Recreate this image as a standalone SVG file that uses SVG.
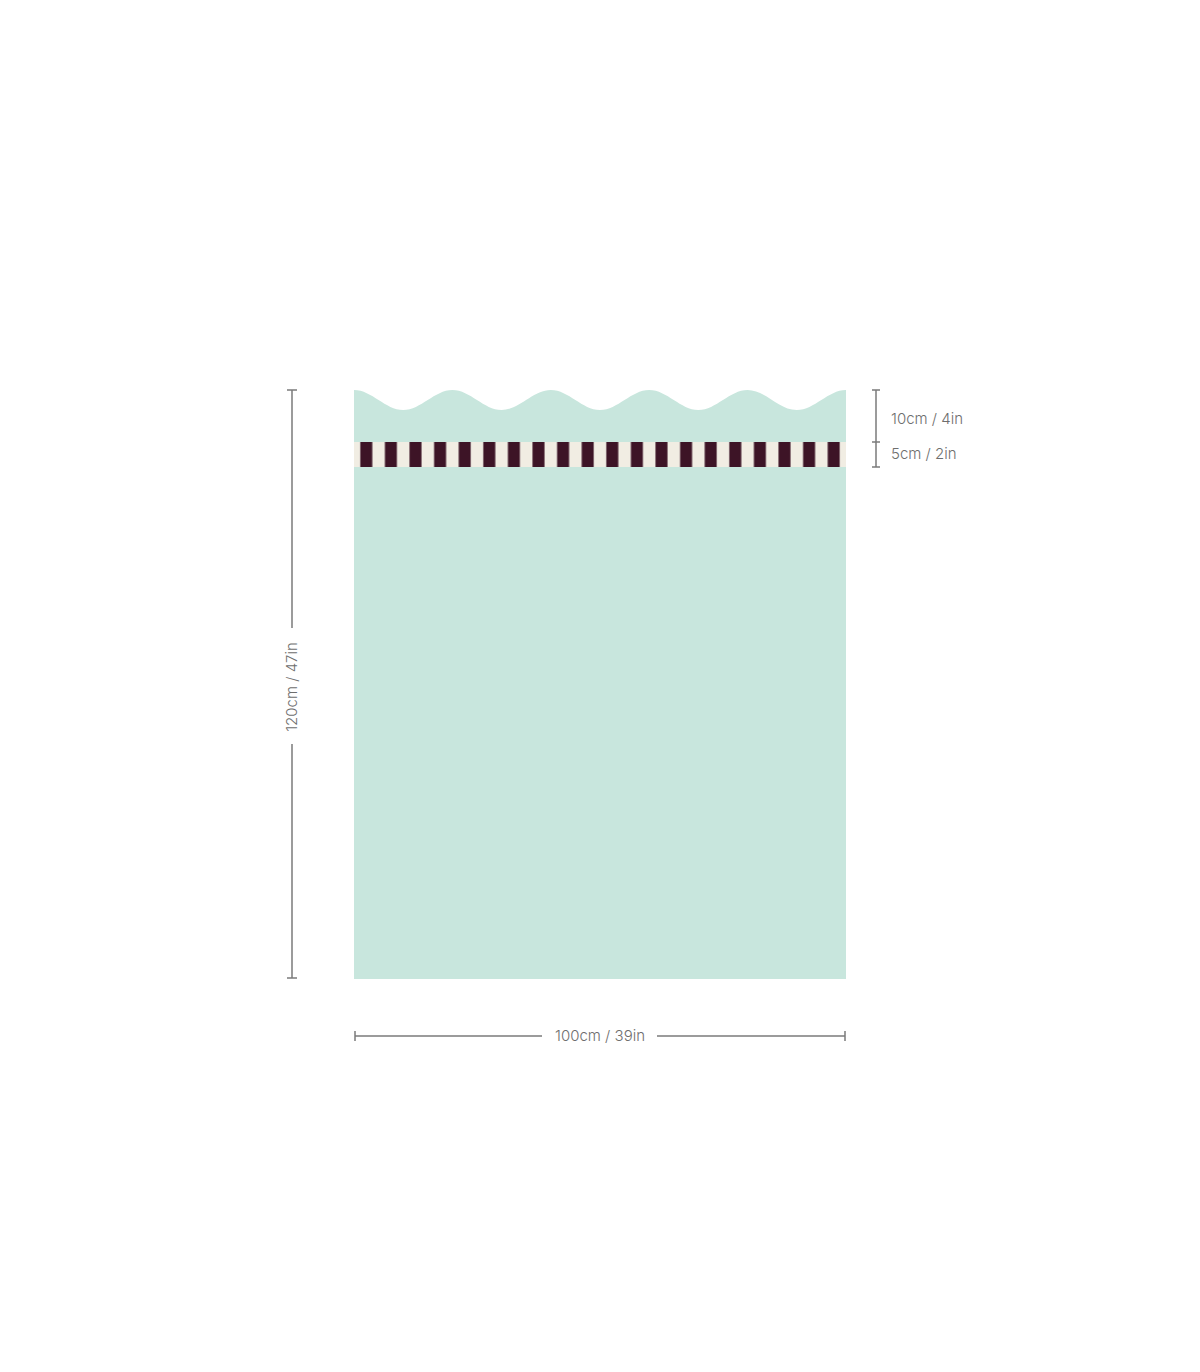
<svg xmlns="http://www.w3.org/2000/svg" width="1200" height="1372" viewBox="0 0 1200 1372">
  <style>
    .dim{stroke:#7b7b7b;stroke-width:1.5;fill:none}
    .lbl{font-family:Inter,"Liberation Sans",sans-serif;font-size:15px;fill:#6e6e6e;font-weight:300}
  </style>
  <defs>
    <pattern id="stripes" patternUnits="userSpaceOnUse" x="354" y="442" width="24.6" height="25">
      <rect x="0" y="0" width="24.6" height="25" fill="#f1ede3"/>
      <rect x="6.3" y="0" width="12" height="25" fill="#3d1426"/>
    </pattern>
  </defs>
  <rect width="1200" height="1372" fill="#ffffff"/>
  <g id="panel">
    <path d="M354 390 C372 390 385.2 410 403.2 410 S434.4 390 452.4 390 S483.6 410 501.6 410 S532.8 390 550.8 390 S582 410 600 410 S631.2 390 649.2 390 S680.4 410 698.4 410 S729.6 390 747.6 390 S778.8 410 796.8 410 S828 390 846 390 L846 979 L354 979 Z" fill="#c8e6dd"/>
    <rect x="354" y="442" width="492" height="25" fill="url(#stripes)"/>
  </g>
  <g id="dim-height">
    <path class="dim" d="M292 390 V628 M292 744 V978 M287 390 H297 M287 978 H297"/>
    <text class="lbl" transform="translate(297 687) rotate(-90)" text-anchor="middle">120cm / 47in</text>
  </g>
  <g id="dim-right">
    <path class="dim" d="M876 390 V467 M872 390 H880 M872 442 H880 M872 467 H880"/>
    <text class="lbl" x="891" y="424">10cm / 4in</text>
    <text class="lbl" x="891" y="459">5cm / 2in</text>
  </g>
  <g id="dim-width">
    <path class="dim" d="M355 1036 H542 M657 1036 H845 M355 1031 V1041 M845 1031 V1041"/>
    <text class="lbl" x="600" y="1041" text-anchor="middle">100cm / 39in</text>
  </g>
</svg>
